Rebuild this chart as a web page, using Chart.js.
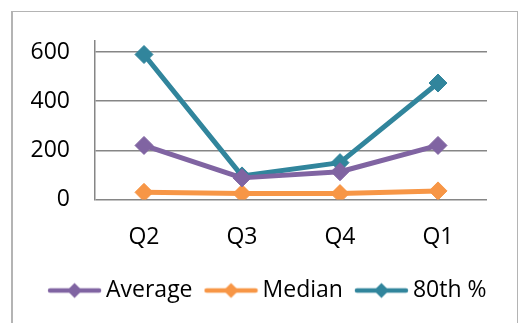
<!DOCTYPE html>
<html lang="en">
<head>
    <meta charset="UTF-8">
    <title>Quarterly chart</title>
    <script src="https://cdn.jsdelivr.net/npm/chart.js"></script>
    <style>
        html, body {
            margin: 0;
            padding: 0;
            background: #fff;
        }
        .wrap {
            position: relative;
            width: 518px;
            height: 323px;
        }
        .frame {
            position: absolute;
            left: 11px;
            top: 11px;
            width: 504px;
            height: 330px;
            border-left: 2px solid #b4b4b4;
            border-top: 1px solid #b4b4b4;
            border-right: 2px solid #b4b4b4;
        }
        #chart {
            position: absolute;
            left: 0;
            top: 0;
        }
    </style>
</head>
<body>
    <div class="wrap">
        <div class="frame"></div>
        <canvas id="chart" width="518" height="323"></canvas>
    </div>

    <script>
        const quarters = ["Q2", "Q3", "Q4", "Q1"];
        const average = [220, 88, 113, 220];
        const median = [29, 24, 24, 35];
        const pct80 = [590, 96, 150, 474];
        const yTicks = [0, 200, 400, 600];

        const seriesNames = ["Average", "Median", "80th %"];
        const seriesColors = ["#8064a2", "#f79646", "#31859c"];

        // small line + diamond picture used as the legend symbol
        function legendIcon(color) {
            const c = document.createElement("canvas");
            c.width = 55;
            c.height = 18;
            const g = c.getContext("2d");
            g.strokeStyle = color;
            g.lineWidth = 4.5;
            g.lineCap = "round";
            g.beginPath();
            g.moveTo(3, 9);
            g.lineTo(52, 9);
            g.stroke();
            g.fillStyle = color;
            g.beginPath();
            g.moveTo(27.5, 1.5);
            g.lineTo(35, 9);
            g.lineTo(27.5, 16.5);
            g.lineTo(20, 9);
            g.closePath();
            g.fill();
            return c;
        }

        // nudge the legend to the right, like in the original
        const legendShift = {
            id: "legendShift",
            afterLayout(chart) {
                chart.legend.left += 21;
                chart.legend.right += 21;
            }
        };

        const font = { family: "'Open Sans', sans-serif", size: 23 };
        Chart.defaults.color = "#000";

        const data = [average, median, pct80];

        new Chart("chart", {
            type: "line",
            data: {
                labels: quarters,
                datasets: data.map((vals, i) => ({
                    label: seriesNames[i],
                    data: vals,
                    borderColor: seriesColors[i],
                    backgroundColor: seriesColors[i],
                    borderWidth: 5,
                    borderJoinStyle: "round",
                    pointStyle: "rectRot",
                    pointRadius: 9,
                    pointBorderWidth: 1,
                    tension: 0
                }))
            },
            plugins: [legendShift],
            options: {
                responsive: false,
                animation: false,
                layout: {
                    padding: { left: 12, right: 31, top: 41, bottom: 11 }
                },
                plugins: {
                    tooltip: { enabled: false },
                    legend: {
                        position: "bottom",
                        labels: {
                            font: font,
                            usePointStyle: true,
                            pointStyleWidth: 40,
                            padding: 18.5,
                            generateLabels(chart) {
                                const items = Chart.defaults.plugins.legend.labels.generateLabels(chart);
                                items.forEach((it, i) => {
                                    it.pointStyle = legendIcon(seriesColors[i]);
                                });
                                return items;
                            }
                        }
                    }
                },
                scales: {
                    x: {
                        offset: true,
                        grid: { display: false, drawTicks: false },
                        border: { display: false },
                        ticks: { font: font, padding: 24 },
                        afterFit(scale) { scale.height = 61; }
                    },
                    y: {
                        min: 0,
                        max: 645,
                        grid: { color: "#868686", lineWidth: 1.5, drawTicks: false },
                        border: { color: "#868686", width: 1.5 },
                        ticks: { font: font, padding: 25, stepSize: 200 },
                        afterBuildTicks(scale) {
                            scale.ticks = yTicks.map(v => ({ value: v }));
                        },
                        afterFit(scale) { scale.width = 83; }
                    }
                }
            }
        });
    </script>
</body>
</html>
